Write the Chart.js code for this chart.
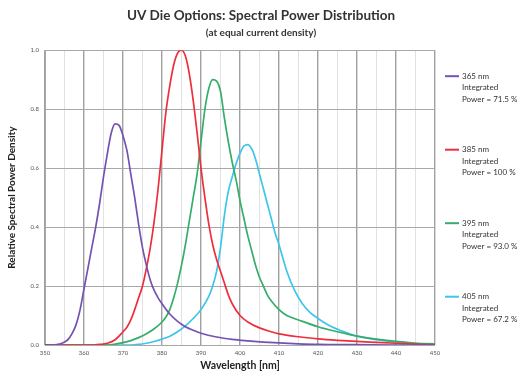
<!doctype html>
<html lang="en">
<head>
  <meta charset="utf-8">
  <title>UV Die Options</title>
  <style>
    * {
      margin: 0;
      padding: 0;
    }

    body {
      background: white;
    }

    .chartBox {
      width: 522px;
      height: 376px;
    }
  </style>
</head>
<body>
<div class="chartBox">
  <canvas id="myChart"></canvas>
</div>
<script src="https://cdn.jsdelivr.net/npm/chart.js"></script>
<script>
  // data
  const seriesNames = ['365 nm', '385 nm', '395 nm', '405 nm'];
  const integratedPower = ['71.5 %', '100 %', '93.0 %', '67.2 %'];
  const seriesColors = ['#7452b3', '#ee2f3b', '#36ad6a', '#3dc6ea'];

  const xTicks = [350, 360, 370, 380, 390, 400, 410, 420, 430, 440, 450];
  const yTicks = [0, 0.2, 0.4, 0.6, 0.8, 1.0];

  const nm365 = [350, 352, 354, 355, 356, 357, 358, 359, 360, 361, 362, 363, 364, 365, 366, 367, 368, 369, 370, 371, 372, 373, 374, 375, 376, 377, 378, 379, 380, 382, 384, 386, 388, 390, 394, 398, 402, 406, 410, 415, 420, 430, 440, 450];
  const val365 = [0, 0, 0.004, 0.01, 0.02, 0.04, 0.07, 0.12, 0.19, 0.26, 0.33, 0.40, 0.48, 0.57, 0.65, 0.72, 0.75, 0.745, 0.71, 0.66, 0.58, 0.50, 0.41, 0.33, 0.27, 0.22, 0.185, 0.16, 0.14, 0.105, 0.08, 0.062, 0.05, 0.04, 0.027, 0.019, 0.014, 0.01, 0.007, 0.004, 0.002, 0.001, 0, 0];

  const nm385 = [350, 362, 364, 366, 368, 370, 371, 372, 373, 374, 375, 376, 377, 378, 379, 380, 381, 382, 383, 384, 385, 386, 387, 388, 389, 390, 391, 392, 393, 394, 395, 396, 397, 398, 400, 402, 405, 408, 410, 415, 420, 425, 430, 435, 440, 445, 450];
  const val385 = [0, 0, 0.002, 0.006, 0.018, 0.045, 0.06, 0.085, 0.12, 0.16, 0.2, 0.26, 0.33, 0.42, 0.53, 0.66, 0.79, 0.88, 0.95, 0.99, 1.0, 0.98, 0.92, 0.83, 0.72, 0.6, 0.5, 0.41, 0.34, 0.29, 0.25, 0.21, 0.17, 0.14, 0.1, 0.078, 0.058, 0.045, 0.038, 0.028, 0.021, 0.016, 0.012, 0.009, 0.006, 0.003, 0.001];

  const nm395 = [350, 366, 368, 370, 372, 374, 376, 378, 380, 381, 382, 383, 384, 385, 386, 387, 388, 389, 390, 391, 392, 393, 394, 395, 396, 397, 398, 399, 400, 401, 402, 403, 404, 405, 406, 407, 408, 410, 412, 415, 420, 425, 430, 435, 440, 445, 450];
  const val395 = [0, 0, 0.003, 0.008, 0.015, 0.025, 0.038, 0.055, 0.078, 0.095, 0.12, 0.16, 0.21, 0.27, 0.34, 0.42, 0.5, 0.58, 0.69, 0.8, 0.87, 0.9, 0.895, 0.86, 0.77, 0.69, 0.62, 0.56, 0.49, 0.43, 0.37, 0.32, 0.27, 0.23, 0.2, 0.17, 0.15, 0.12, 0.1, 0.085, 0.062, 0.045, 0.03, 0.02, 0.012, 0.006, 0.003];

  const nm405 = [350, 372, 374, 376, 378, 380, 382, 384, 386, 388, 390, 392, 393, 394, 395, 396, 397, 398, 399, 400, 401, 402, 403, 404, 405, 406, 407, 408, 409, 410, 412, 414, 416, 418, 420, 423, 426, 430, 435, 440, 445, 450];
  const val405 = [0, 0, 0.002, 0.006, 0.012, 0.02, 0.03, 0.045, 0.065, 0.09, 0.12, 0.165, 0.2, 0.25, 0.33, 0.44, 0.52, 0.57, 0.615, 0.65, 0.675, 0.68, 0.665, 0.63, 0.58, 0.53, 0.48, 0.43, 0.38, 0.34, 0.25, 0.185, 0.14, 0.11, 0.09, 0.065, 0.048, 0.03, 0.018, 0.01, 0.006, 0.004];

  const allNm = [nm365, nm385, nm395, nm405];
  const allVal = [val365, val385, val395, val405];

  const FONT = 'Lato, "Open Sans", sans-serif';

  // setup
  const data = {
    datasets: seriesNames.map((name, i) => ({
      label: name,
      data: allNm[i].map((x, j) => ({x: x, y: allVal[i][j]})),
      borderColor: seriesColors[i],
      backgroundColor: seriesColors[i],
      borderWidth: 1.7,
      pointRadius: 0,
      fill: false,
      cubicInterpolationMode: 'monotone'
    }))
  };

  // legend at the right, each entry on three lines
  const sideLegend = {
    id: 'sideLegend',
    afterDraw(chart) {
      const ctx = chart.ctx;
      const area = chart.chartArea;
      ctx.save();
      ctx.font = '8px ' + FONT;
      ctx.fillStyle = '#333';
      ctx.textBaseline = 'middle';
      seriesNames.forEach((name, i) => {
        const y = area.top + 26 + i * 73.5;
        const x0 = area.right + 10;
        ctx.strokeStyle = seriesColors[i];
        ctx.lineWidth = 2;
        ctx.beginPath();
        ctx.moveTo(x0, y);
        ctx.lineTo(x0 + 14, y);
        ctx.stroke();
        ctx.fillText(name, x0 + 17, y);
        ctx.fillText('Integrated', x0 + 17, y + 11.5);
        ctx.fillText('Power = ' + integratedPower[i], x0 + 17, y + 23);
      });
      ctx.restore();
    }
  };

  // config
  const config = {
    type: 'line',
    data,
    options: {
      responsive: true,
      maintainAspectRatio: false,
      animation: false,
      layout: {
        padding: {top: 8, right: 0, bottom: 4, left: 0}
      },
      plugins: {
        legend: {display: false},
        tooltip: {enabled: false},
        title: {
          display: true,
          text: 'UV Die Options: Spectral Power Distribution',
          color: '#333',
          font: {family: FONT, size: 13.5, weight: 'bold'},
          padding: {top: 0, bottom: 2}
        },
        subtitle: {
          display: true,
          text: '(at equal current density)',
          color: '#333',
          font: {family: FONT, size: 10, weight: 'bold'},
          padding: {top: 1, bottom: 11}
        }
      },
      scales: {
        x: {
          type: 'linear',
          min: 350,
          max: 450,
          afterBuildTicks: (scale) => {
            const t = [];
            for (let v = 350; v <= 450; v += 5) t.push({value: v});
            scale.ticks = t;
          },
          afterFit: (scale) => { scale.height = 27; },
          ticks: {
            autoSkip: false,
            maxRotation: 0,
            padding: 4,
            color: '#555',
            font: {family: FONT, size: 6},
            callback: (v) => xTicks.includes(v) ? String(v) : ''
          },
          grid: {
            drawTicks: false,
            color: (c) => (c.tick && c.tick.value % 10 === 0) ? '#a0a0a0' : '#e2e2e2',
            lineWidth: (c) => (c.tick && c.tick.value % 10 === 0) ? 1.4 : 1
          },
          border: {display: false},
          title: {
            display: true,
            text: 'Wavelength [nm]',
            color: '#222',
            font: {family: FONT, size: 10.5, weight: 'bold'},
            padding: {top: 1, bottom: 0}
          }
        },
        y: {
          min: 0,
          max: 1,
          afterBuildTicks: (scale) => {
            scale.ticks = yTicks.map(v => ({value: v}));
          },
          afterFit: (scale) => { scale.width = 45; },
          ticks: {
            padding: 6,
            color: '#555',
            font: {family: FONT, size: 6},
            callback: (v) => Number(v).toFixed(1)
          },
          grid: {
            drawTicks: false,
            color: '#a8a8a8',
            lineWidth: 1
          },
          border: {display: true, color: '#a8a8a8'},
          title: {
            display: true,
            text: 'Relative Spectral Power Density',
            color: '#222',
            font: {family: FONT, size: 10, weight: 'bold'},
            padding: {top: 6, bottom: 4}
          }
        },
        // empty axis that keeps room for the legend on the right
        legendSpace: {
          position: 'right',
          min: 0,
          max: 1,
          afterFit: (scale) => { scale.width = 87; },
          ticks: {display: false},
          grid: {display: false},
          border: {display: false}
        }
      }
    },
    plugins: [sideLegend]
  };

  // render init block
  const myChart = new Chart(
    document.getElementById('myChart'),
    config
  );
</script>
</body>
</html>
